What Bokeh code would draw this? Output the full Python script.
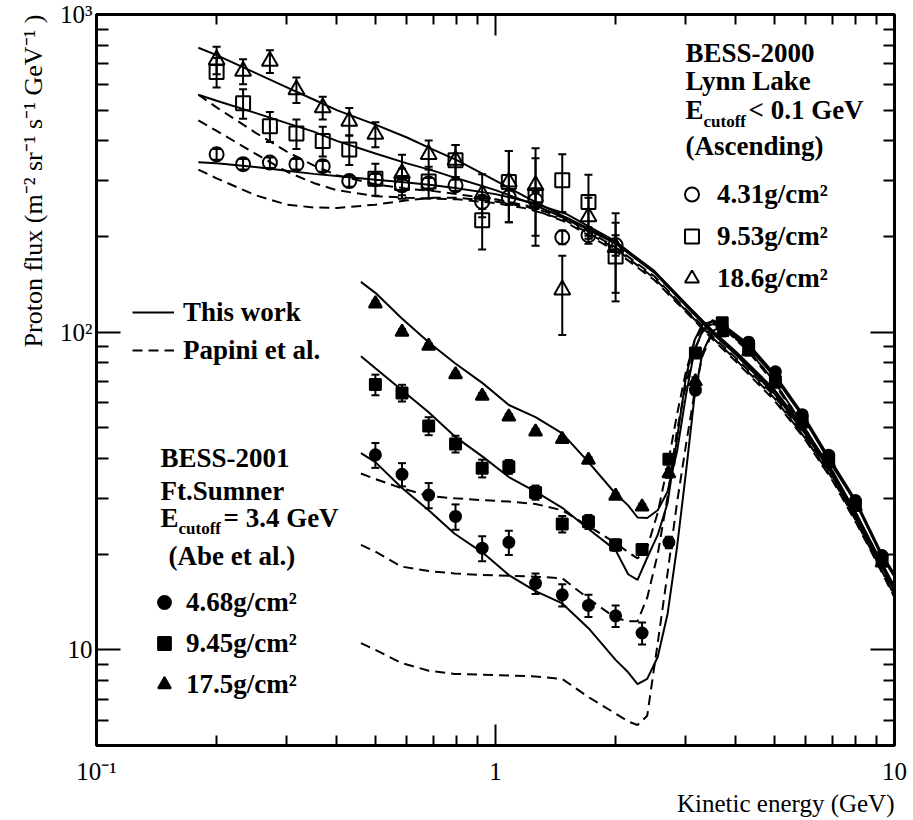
import math
from bokeh.plotting import figure
from bokeh.models import (ColumnDataSource, Whisker, TeeHead, Label, LogAxis, Title,
                          FixedTicker, Range1d, CustomJSTickFormatter, Legend, LegendItem)
from bokeh.embed import file_html
from bokeh.resources import INLINE

# ---------------- axis ticks ----------------
X_MAJOR = [0.1, 1, 10]
X_MINOR = [0.2, 0.3, 0.4, 0.5, 0.6, 0.7, 0.8, 0.9, 2, 3, 4, 5, 6, 7, 8, 9]
Y_MAJOR = [10, 100, 1000]
Y_MINOR = [6, 7, 8, 9, 20, 30, 40, 50, 60, 70, 80, 90, 200, 300, 400, 500, 600, 700, 800, 900]

# ---------------- BESS-2000 data (Lynn Lake, ascending) ----------------
E_2000 = [0.2, 0.233, 0.272, 0.317, 0.369, 0.43, 0.5, 0.583, 0.68, 0.794, 0.926, 1.08, 1.26, 1.47, 1.71, 2.0]
F_431 = [363, 338, 342, 338, 333, 299, 303, 290, 294, 290, 257, 266, 260, 199, 202, 188]
ERR_431 = [14, 13, 13, 13, 13, 12, 12, 12, 12, 12, 13, 14, 16, 10, 12, 14]
F_953 = [659, 526, 445, 422, 400, 376, 304, 295, 298, 348, 225, 297, 270, 301, 257, 173]
ERR_953 = [70, 56, 48, 45, 43, 40, 35, 32, 34, 40, 43, 75, 83, 62, 56, 48]
F_186 = [720, 663, 713, 580, 509, 462, 420, 316, 363, 348, 272, 297, 290, 136, 231, 185]
ERR_186 = [71, 60, 59, 53, 42, 46, 38, 46, 38, 40, 42, 75, 89, 38, 34, 52]

# ---------------- BESS-2001 data (Ft. Sumner) ----------------
E_2001 = [0.5, 0.583, 0.68, 0.794, 0.926, 1.08, 1.26, 1.47, 1.71, 2.0, 2.33, 2.72, 3.17, 3.70, 4.31, 5.03, 5.87, 6.84, 7.98, 9.31]
F_468 = [41.1, 35.7, 30.7, 26.3, 20.9, 21.8, 16.2, 14.9, 13.8, 12.8, 11.3, 21.8, 65.7, 104, 93, 75, 55, 41, 29.5, 19.8]
ERR_468 = [3.7, 3.0, 2.8, 2.4, 1.9, 1.9, 1.2, 1.2, 1.1, 1.0, 0.9, 0.9, 2.0, 3.0, 3.0, 2.2, 1.6, 1.2, 0.9, 0.6]
F_945 = [68.4, 64.4, 50.7, 44.5, 37.3, 37.7, 31.3, 24.9, 25.3, 21.4, 20.7, 39.8, 86, 107, 89, 70, 52.5, 39.5, 28.6, 19.2]
ERR_945 = [5.1, 3.9, 3.3, 2.7, 2.4, 1.9, 1.6, 1.5, 1.3, 0.9, 0.8, 1.2, 2.6, 3.2, 2.7, 2.1, 1.6, 1.2, 0.9, 0.6]
F_175 = [123, 100.2, 90.4, 73.6, 63, 54.2, 48.6, 46, 39.6, 30.5, 28.2, 35.9, 70, 100, 87, 69, 51.5, 38.8, 28.2, 18.8]
ERR_175 = [2.5, 2.0, 1.8, 1.5, 1.3, 1.1, 1.0, 0.9, 0.8, 0.6, 0.6, 1.1, 2.1, 3.0, 2.6, 2.1, 1.5, 1.2, 0.8, 0.6]

# ---------------- model curves, BESS-2000 ----------------
EC_2000 = [0.18, 0.2, 0.25, 0.3, 0.35, 0.4, 0.5, 0.6, 0.7, 0.8, 1.0, 1.2, 1.5, 2.0, 2.5, 3.0, 3.5, 4.0, 5.0, 6.0, 7.0, 8.0, 9.0, 10.0]
TW_431 = [343, 340, 331, 322, 315, 310, 302, 296, 290, 284, 272, 258, 236, 193, 155, 122, 100, 86, 65, 48, 36, 26.5, 20, 15.5]
TW_953 = [559, 535, 490, 455, 428, 400, 365, 340, 322, 305, 280, 257, 228, 190, 154, 121, 99, 85, 64, 47.5, 35.5, 26, 19.8, 15.3]
TW_186 = [786, 745, 655, 590, 540, 500, 450, 410, 375, 348, 300, 265, 230, 192, 156, 123, 101, 87, 66, 49, 36.5, 27, 20.3, 15.8]
PA_431 = [325, 305, 270, 252, 247, 246, 252, 260, 265, 265, 258, 248, 222, 180, 146, 116, 95, 81, 61, 45.5, 34, 25.2, 19, 14.6]
PA_953 = [464, 430, 365, 320, 295, 280, 268, 265, 263, 262, 255, 245, 225, 183, 148, 117, 96, 82, 62, 46, 34.5, 25.5, 19.2, 14.8]
PA_186 = [559, 510, 425, 370, 335, 312, 292, 283, 278, 272, 262, 250, 228, 185, 150, 118, 97, 83, 63, 46.5, 35, 25.8, 19.4, 15.0]

# ---------------- model curves, BESS-2001 ----------------
EC_2001 = [0.46, 0.5, 0.58, 0.68, 0.79, 0.93, 1.08, 1.26, 1.47, 1.71, 2.0, 2.15, 2.27, 2.4, 2.55, 2.7, 2.85, 3.0, 3.15, 3.3, 3.5, 3.7, 4.3, 5.0, 5.9, 6.8, 8.0, 9.3, 10.0]
TW_175 = [144, 133, 111, 93, 80, 69, 59, 54, 48, 39, 31, 28.5, 26.1, 26, 27.5, 31.5, 42, 63, 87, 101, 109, 106, 92, 74, 55, 41, 29.5, 20, 17.3]
TW_945 = [84, 77, 66, 56, 47, 40.5, 35, 31.5, 28, 24, 20.6, 17.3, 16.6, 19.5, 23, 29, 46, 72, 94, 106, 108, 105, 91, 73, 54.5, 40.5, 29.2, 19.8, 17.1]
TW_468 = [41.6, 39, 32.5, 27.5, 23.2, 20.2, 17.2, 15.3, 14.0, 11.7, 9.3, 8.5, 7.8, 8.1, 9.5, 13, 21, 36, 62, 86, 101, 104, 90, 72.5, 54, 40, 29, 19.6, 17]
PA_175 = [35.9, 34.5, 32.3, 30.5, 30, 29.6, 29.3, 28.8, 27.5, 24.5, 21.7, 20.3, 19.4, 21, 27, 38, 55, 75, 93, 103, 106, 104, 88, 70, 51, 38, 27, 18.6, 15.8]
PA_945 = [21.4, 20.4, 18.3, 17.7, 17.4, 17.2, 17.1, 17.0, 16.8, 14.5, 12.6, 12.3, 12.3, 14.6, 20, 30.4, 49, 68, 88, 100, 107, 104, 87, 69, 50.5, 37.5, 26.7, 18.4, 15.6]
PA_468 = [10.5, 10.0, 9.1, 8.6, 8.4, 8.35, 8.3, 8.25, 8.1, 7.1, 6.3, 5.95, 5.8, 6.2, 10.5, 17.5, 29, 44, 64, 84, 100, 105, 88, 70, 51, 38, 27, 18.6, 15.7]

SERIF = "Liberation Serif"

p = figure(width=913, height=820, x_axis_type="log", y_axis_type="log",
           x_range=Range1d(0.1, 10), y_range=Range1d(5, 1000),
           output_backend="svg", toolbar_location=None,
           min_border_left=96, min_border_right=19, min_border_top=14, min_border_bottom=75)
p.xgrid.visible = False
p.ygrid.visible = False
p.outline_line_color = "black"
p.outline_line_width = 3
p.background_fill_color = "white"
p.border_fill_color = "white"

fmt = CustomJSTickFormatter(code="""
const e = Math.round(Math.log10(tick));
if (e === 0) return "1";
if (e === 1) return "10";
const sup = {"-1": "\u207b\u00b9", "2": "\u00b2", "3": "\u00b3"};
return "10" + sup[String(e)];
""")
blank = CustomJSTickFormatter(code='return "";')


def style(ax, major, minor, maj_len, min_len, labels=True, standoff=4):
    ax.ticker = FixedTicker(ticks=major, minor_ticks=minor)
    ax.major_tick_in = maj_len
    ax.major_tick_out = 0
    ax.minor_tick_in = min_len
    ax.minor_tick_out = 0
    ax.major_tick_line_width = 2
    ax.minor_tick_line_width = 2
    ax.major_tick_line_color = "black"
    ax.minor_tick_line_color = "black"
    ax.axis_line_width = 3
    ax.axis_line_color = "black"
    ax.major_label_text_font = SERIF
    ax.major_label_text_color = "black"
    if labels:
        ax.formatter = fmt
        ax.major_label_text_font_size = "25px"
        ax.major_label_standoff = standoff
    else:
        ax.formatter = blank
        ax.major_label_text_font_size = "6px"
        ax.major_label_standoff = 0


style(p.xaxis[0], X_MAJOR, X_MINOR, 21, 10, True, 12)
style(p.yaxis[0], Y_MAJOR, Y_MINOR, 24, 12, True, 4)
top = LogAxis()
style(top, X_MAJOR, X_MINOR, 21, 10, False)
p.add_layout(top, "above")
right = LogAxis()
style(right, Y_MAJOR, Y_MINOR, 24, 11, False)
p.add_layout(right, "right")

# axis titles (as side-panel titles so they can sit outside the frame)
x_title = Title(text="Kinetic energy (GeV)", align="right", text_font=SERIF,
                text_font_size="25px", text_font_style="normal", text_color="black",
                standoff=0)
p.add_layout(x_title, "below")
y_title = Title(text="Proton flux (m\u207b\u00b2 sr\u207b\u00b9 s\u207b\u00b9 GeV\u207b\u00b9 )",
                align="right", text_font=SERIF, text_font_size="26px",
                text_font_style="normal", text_color="black", standoff=19)
p.add_layout(y_title, "left")

DASH = "10 6"


def curve(xs, ys, dashed):
    return p.line(xs, ys, line_color="black", line_width=2,
                  line_dash=DASH if dashed else "solid")


r_tw = curve(EC_2000, TW_431, False)
curve(EC_2000, TW_953, False)
curve(EC_2000, TW_186, False)
r_pa = curve(EC_2000, PA_431, True)
curve(EC_2000, PA_953, True)
curve(EC_2000, PA_186, True)
curve(EC_2001, TW_175, False)
curve(EC_2001, TW_945, False)
curve(EC_2001, TW_468, False)
curve(EC_2001, PA_175, True)
curve(EC_2001, PA_945, True)
curve(EC_2001, PA_468, True)


def points(xs, ys, errs, marker, size, filled):
    src = ColumnDataSource(dict(x=xs, y=ys,
                                lo=[y - e for y, e in zip(ys, errs)],
                                hi=[y + e for y, e in zip(ys, errs)]))
    w = Whisker(source=src, base="x", lower="lo", upper="hi",
                line_color="black", line_width=2,
                upper_head=TeeHead(size=8, line_width=2, line_color="black"),
                lower_head=TeeHead(size=8, line_width=2, line_color="black"))
    p.add_layout(w)
    return p.scatter("x", "y", source=src, marker=marker, size=size,
                     line_color="black", line_width=2,
                     fill_color="black" if filled else None)


r_o431 = points(E_2000, F_431, ERR_431, "circle", 14, False)
r_o953 = points(E_2000, F_953, ERR_953, "square", 14, False)
r_o186 = points(E_2000, F_186, ERR_186, "triangle", 16, False)
r_f468 = points(E_2001, F_468, ERR_468, "circle", 11, True)
r_f945 = points(E_2001, F_945, ERR_945, "square", 11, True)
r_f175 = points(E_2001, F_175, ERR_175, "triangle", 13, True)

LEG_FONT = dict(label_text_font=SERIF, label_text_font_style="bold",
                label_text_font_size="27px", label_text_color="black",
                background_fill_alpha=0, border_line_alpha=0, padding=0, margin=0)

leg_lines = Legend(items=[LegendItem(label="This work", renderers=[r_tw]),
                          LegendItem(label="Papini et al.", renderers=[r_pa])],
                   location=(36, 377), glyph_width=42, glyph_height=36, label_height=36,
                   spacing=2, label_standoff=9, **LEG_FONT)
leg_2000 = Legend(items=[LegendItem(label="4.31g/cm\u00b2", renderers=[r_o431]),
                         LegendItem(label="9.53g/cm\u00b2", renderers=[r_o953]),
                         LegendItem(label="18.6g/cm\u00b2", renderers=[r_o186])],
                  location=(578, 447), glyph_width=35, glyph_height=40, label_height=40,
                  spacing=2, label_standoff=8, **LEG_FONT)
leg_2001 = Legend(items=[LegendItem(label="4.68g/cm\u00b2", renderers=[r_f468]),
                         LegendItem(label="9.45g/cm\u00b2", renderers=[r_f945]),
                         LegendItem(label="17.5g/cm\u00b2", renderers=[r_f175])],
                  location=(52, 41), glyph_width=32, glyph_height=40, label_height=40,
                  spacing=1, label_standoff=6, **LEG_FONT)
for lg in (leg_lines, leg_2000, leg_2001):
    p.add_layout(lg, "center")


def text(fx, fy, s, size="27px"):
    p.add_layout(Label(x=fx, y=fy, x_units="screen", y_units="screen", text=s,
                       text_font=SERIF, text_font_size=size, text_font_style="bold",
                       text_color="black", text_align="left", text_baseline="alphabetic"))


# BESS-2000 block
text(589, 693, "BESS-2000")
text(589, 665, "Lynn Lake")
text(589, 636, "E")
text(607, 624, "cutoff", size="17px")
text(652, 636, "< 0.1 GeV")
text(589, 600, "(Ascending)")

# BESS-2001 block
text(64, 288, "BESS-2001")
text(64, 255, "Ft.Sumner")
text(64, 228, "E")
text(82, 217, "cutoff", size="17px")
text(127, 228, "= 3.4 GeV")
text(72, 190, "(Abe et al.)")

open("out.html", "w").write(file_html(p, INLINE, title="Proton flux"))
